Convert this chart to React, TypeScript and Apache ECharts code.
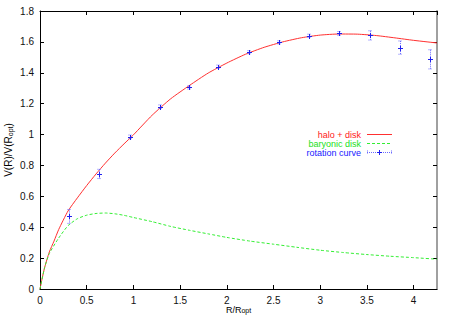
import React, { useEffect, useRef } from "react";
import * as echarts from "echarts";

// Rotation curve data (R/Ropt, V/V(Ropt), error)
const rPoints = [0.31, 0.63, 0.96, 1.28, 1.6, 1.91, 2.24, 2.56, 2.88, 3.2, 3.53, 3.85, 4.17];
const vPoints = [0.47, 0.745, 0.985, 1.18, 1.305, 1.44, 1.533, 1.597, 1.64, 1.655, 1.642, 1.563, 1.487];
const vErrors = [0.045, 0.03, 0.012, 0.012, 0.01, 0.01, 0.01, 0.01, 0.01, 0.012, 0.03, 0.043, 0.062];

// Halo + disk model curve
const haloR = [0, 0.02, 0.05, 0.1, 0.15, 0.2, 0.3, 0.4, 0.5, 0.6, 0.7, 0.8, 0.9, 1.0, 1.2, 1.4, 1.6, 1.8, 2.0, 2.2, 2.4, 2.6, 2.8, 3.0, 3.2, 3.4, 3.6, 3.8, 4.0, 4.25];
const haloV = [0, 0.06, 0.14, 0.24, 0.31, 0.385, 0.505, 0.59, 0.67, 0.745, 0.815, 0.88, 0.94, 0.998, 1.125, 1.232, 1.318, 1.398, 1.463, 1.52, 1.565, 1.6, 1.627, 1.644, 1.651, 1.65, 1.641, 1.626, 1.61, 1.593];

// Baryonic disk curve
const diskR = [0, 0.05, 0.1, 0.2, 0.3, 0.4, 0.5, 0.6, 0.7, 0.8, 0.9, 1.0, 1.2, 1.4, 1.6, 1.8, 2.0, 2.25, 2.5, 2.75, 3.0, 3.25, 3.5, 3.75, 4.0, 4.25];
const diskV = [0, 0.14, 0.23, 0.33, 0.41, 0.455, 0.478, 0.489, 0.492, 0.487, 0.477, 0.463, 0.436, 0.405, 0.38, 0.357, 0.334, 0.31, 0.29, 0.27, 0.251, 0.236, 0.223, 0.212, 0.203, 0.193];

const xTicks = [0, 0.5, 1, 1.5, 2, 2.5, 3, 3.5, 4];
const yTicks = [0, 0.2, 0.4, 0.6, 0.8, 1, 1.2, 1.4, 1.6, 1.8];

const FONT = "Liberation Sans, Arial, Helvetica, sans-serif";

const onTick = (v: number, ticks: number[]) => ticks.some((t) => Math.abs(t - v) < 1e-6);

export default function App() {
  const ref = useRef<HTMLDivElement>(null);
  useEffect(() => {
    if (!ref.current) return;
    const chart = echarts.init(ref.current, undefined, { renderer: "svg" });
    const axisCommon = {
      type: "value" as const,
      splitLine: { show: false },
      axisTick: { inside: true, length: 4, lineStyle: { color: "#000", width: 1 } },
    };
    const rich = { s: { fontSize: 7, fontFamily: FONT, color: "#000", padding: [4, 0, 0, 0] } };
    const richX = { s: { fontSize: 7, fontFamily: FONT, color: "#000", padding: [2, 0, 0, 0] } };
    const legendFont = { fontSize: 9, lineHeight: 9, fontFamily: FONT };
    chart.setOption({
      animation: false,
      backgroundColor: "#fff",
      grid: { left: 40, right: 15, top: 11, bottom: 27, containLabel: false, outerBoundsMode: "none" },
      xAxis: [
        {
          ...axisCommon,
          position: "bottom",
          min: 0,
          max: 4.25,
          interval: 0.5,
          axisLine: { onZero: false, lineStyle: { color: "#000", width: 1 } },
          axisLabel: {
            margin: 6,
            fontSize: 10,
            fontFamily: FONT,
            color: "#111",
            showMaxLabel: false,
            formatter: (v: number) => (onTick(v, xTicks) ? String(Math.round(v * 10) / 10) : ""),
          },
          name: "R/R{s|opt}",
          nameLocation: "middle",
          nameGap: 16,
          nameMoveOverlap: false,
          nameTextStyle: { fontSize: 9, fontFamily: FONT, color: "#000", rich: richX },
        },
        {
          ...axisCommon,
          position: "top",
          min: 0,
          max: 4.25,
          interval: 0.5,
          axisLine: { show: true, onZero: false, lineStyle: { color: "#000", width: 1 } },
          axisLabel: { show: false },
        },
      ],
      yAxis: [
        {
          ...axisCommon,
          position: "left",
          min: 0,
          max: 1.8,
          interval: 0.2,
          axisLine: { show: true, onZero: false, lineStyle: { color: "#000", width: 1 } },
          axisLabel: {
            margin: 6,
            fontSize: 10,
            fontFamily: FONT,
            color: "#111",
            formatter: (v: number) => (onTick(v, yTicks) ? String(Math.round(v * 10) / 10) : ""),
          },
          name: "V(R)/V(R{s|opt})",
          nameLocation: "middle",
          nameGap: 26,
          nameMoveOverlap: false,
          nameTextStyle: { fontSize: 10, fontFamily: FONT, color: "#000", rich },
        },
        {
          ...axisCommon,
          position: "right",
          min: 0,
          max: 1.8,
          interval: 0.2,
          axisLine: { show: true, onZero: false, lineStyle: { color: "#a0a0a0", width: 2 } },
          axisLabel: { show: false },
        },
      ],
      series: [
        {
          name: "halo + disk",
          type: "line",
          data: haloR.map((r, i) => [r, haloV[i]]),
          showSymbol: false,
          smooth: 0.2,
          lineStyle: { color: "#ff3030", width: 1 },
          z: 2,
        },
        {
          name: "baryonic disk",
          type: "line",
          data: diskR.map((r, i) => [r, diskV[i]]),
          showSymbol: false,
          smooth: 0.2,
          lineStyle: { color: "#33ee33", width: 1, type: [3, 2] },
          z: 2,
        },
        {
          name: "rotation curve",
          type: "custom",
          data: rPoints.map((r, i) => [r, vPoints[i], vErrors[i]]),
          z: 3,
          renderItem: (_params: any, api: any) => {
            const x = api.value(0);
            const y = api.value(1);
            const e = api.value(2);
            const p = api.coord([x, y]);
            const hi = api.coord([x, y + e]);
            const lo = api.coord([x, y - e]);
            const px = Math.round(p[0]) + 0.5;
            const py = Math.round(p[1]) + 0.5;
            const barStyle = { stroke: "#6a6aff", lineWidth: 1, lineDash: [1, 1] };
            const markStyle = { stroke: "#2020ee", lineWidth: 1 };
            return {
              type: "group",
              children: [
                { type: "line", shape: { x1: px, y1: hi[1], x2: px, y2: lo[1] }, style: barStyle },
                { type: "line", shape: { x1: px - 2, y1: hi[1], x2: px + 2, y2: hi[1] }, style: barStyle },
                { type: "line", shape: { x1: px - 2, y1: lo[1], x2: px + 2, y2: lo[1] }, style: barStyle },
                { type: "line", shape: { x1: px - 2.5, y1: py, x2: px + 2.5, y2: py }, style: markStyle },
                { type: "line", shape: { x1: px, y1: py - 2.5, x2: px, y2: py + 2.5 }, style: markStyle },
              ],
            };
          },
        },
      ],
      graphic: [
        { type: "text", x: 361, y: 134.5, style: { text: "halo + disk", align: "right", verticalAlign: "middle", fill: "#ff2020", ...legendFont } },
        { type: "line", shape: { x1: 367, y1: 134.5, x2: 392, y2: 134.5 }, style: { stroke: "#ff3030", lineWidth: 1 } },
        { type: "text", x: 361, y: 143.5, style: { text: "baryonic disk", align: "right", verticalAlign: "middle", fill: "#22e022", ...legendFont } },
        { type: "line", shape: { x1: 367, y1: 143.5, x2: 392, y2: 143.5 }, style: { stroke: "#33ee33", lineWidth: 1, lineDash: [3, 2] } },
        { type: "text", x: 361, y: 152.5, style: { text: "rotation curve", align: "right", verticalAlign: "middle", fill: "#2020ff", ...legendFont } },
        { type: "line", shape: { x1: 367, y1: 152.5, x2: 392, y2: 152.5 }, style: { stroke: "#6a6aff", lineWidth: 1, lineDash: [1, 1] } },
        { type: "line", shape: { x1: 367.5, y1: 150.5, x2: 367.5, y2: 154.5 }, style: { stroke: "#6a6aff", lineWidth: 1, lineDash: [1, 1] } },
        { type: "line", shape: { x1: 391.5, y1: 150.5, x2: 391.5, y2: 154.5 }, style: { stroke: "#6a6aff", lineWidth: 1, lineDash: [1, 1] } },
        { type: "line", shape: { x1: 377, y1: 152.5, x2: 382, y2: 152.5 }, style: { stroke: "#2020ee", lineWidth: 1 } },
        { type: "line", shape: { x1: 379.5, y1: 150, x2: 379.5, y2: 155 }, style: { stroke: "#2020ee", lineWidth: 1 } },
      ],
    });
    return () => chart.dispose();
  }, []);
  return <div ref={ref} style={{ position: "fixed", left: 0, top: 0, width: 452, height: 316 }} />;
}
